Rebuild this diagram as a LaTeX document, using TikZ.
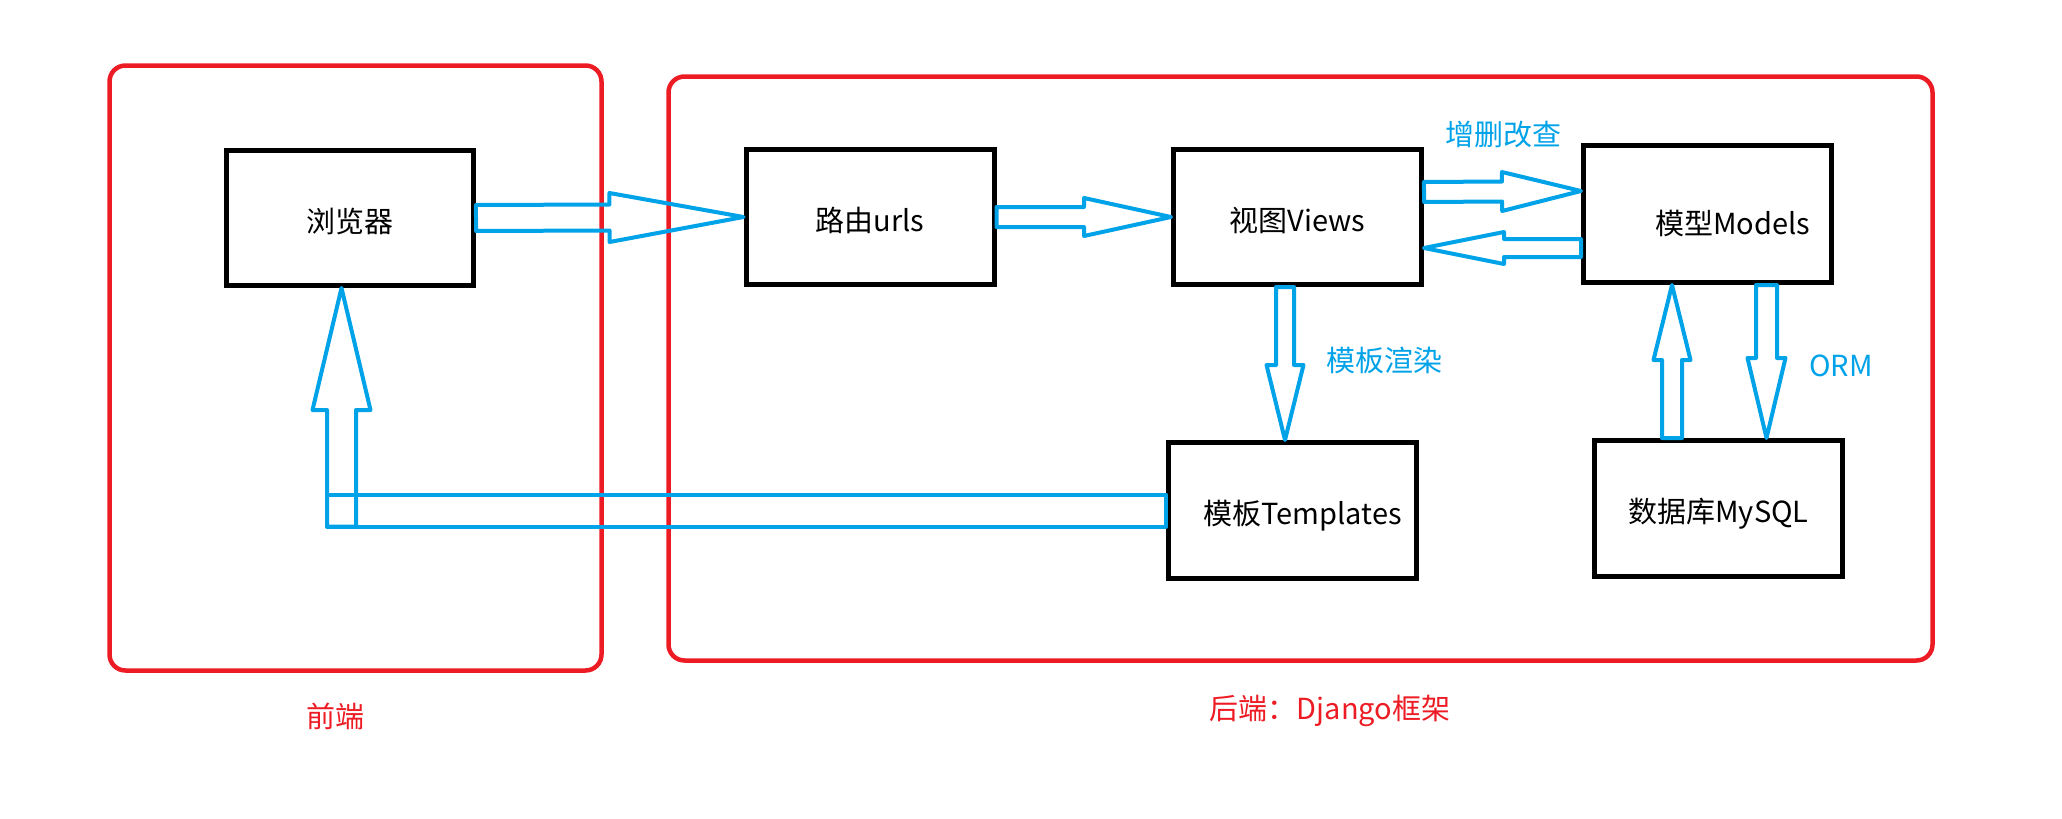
\documentclass[tikz,border=0pt]{standalone}
\usepackage{fontspec}
\setmainfont{Noto Sans CJK SC}
\usepackage{tikz}
\usetikzlibrary{calc}
\definecolor{paintred}{HTML}{ED1C24}
\definecolor{paintblue}{HTML}{00A2E8}
\newcommand{\diagfont}{\fontsize{29pt}{35pt}\selectfont}
\tikzset{
    part-box/.style = {draw=paintred, line width=4.5pt, rectangle, rounded corners=16pt},
    step-box/.style = {draw=black, line width=5pt, rectangle, minimum width=248pt, minimum height=136pt, inner sep=0pt, text height=30pt, text depth=2pt, font=\diagfont},
    flow/.style = {draw=paintblue, line width=4pt, line join=round},
    flow-label/.style = {text=paintblue, font=\diagfont},
    part-label/.style = {text=paintred, font=\diagfont},
}
\newcommand{\fatarrow}[5]{%
    \path (#1) coordinate (fa-s) (#2) coordinate (fa-e) ($(fa-e)!#5!(fa-s)$) coordinate (fa-h);
    \draw[flow] ($(fa-s)!#3!90:(fa-e)$) -- ($(fa-h)!#3!90:(fa-e)$) -- ($(fa-h)!#4!90:(fa-e)$) -- (fa-e)
        -- ($(fa-h)!#4!-90:(fa-e)$) -- ($(fa-h)!#3!-90:(fa-e)$) -- ($(fa-s)!#3!-90:(fa-e)$) -- cycle;
}

\begin{document}
\begin{tikzpicture}[x=1pt, y=-1pt]
\useasboundingbox (0,0) rectangle (2062,819);
\node[part-box, minimum width=492pt, minimum height=605pt] (front) at (355.5,368) {};
\node[part-box, minimum width=1264pt, minimum height=584pt] (back) at (1300.5,368.5) {};
\node[part-label] (front-label) at (335,716) {前端};
\node[part-label] (back-label) at (1330,711) {后端：Django框架};

\node[step-box, minimum width=247pt, minimum height=135pt] (browser) at (350,218) {浏览器};
\node[step-box, minimum height=135pt] (urls) at (870,217) {路由urls};
\node[step-box, minimum height=135pt] (views) at (1297.5,217) {视图Views};
\node[step-box, minimum height=137pt] (models) at (1707.5,214) {\hspace*{50pt}\raisebox{-6pt}{模型Models}};
\node[step-box] (templates) at (1292.5,510.5) {\hspace*{20pt}模板Templates};
\node[step-box] (mysql) at (1718.5,508.5) {数据库MySQL};

\fatarrow{browser.east}{urls.west}{13pt}{24.5pt}{134pt}
\fatarrow{urls.east}{views.west}{10pt}{19pt}{87pt}
\fatarrow{$(views.east)+(0,-25)$}{$(models.west)+(0,-23)$}{10pt}{19.5pt}{79pt}
\fatarrow{$(models.west)+(0,34)$}{$(views.east)+(0,31)$}{9pt}{16pt}{80pt}
\coordinate (vt) at ($(views.south)+(-12.5,0)$);
\fatarrow{vt}{vt |- templates.north}{9pt}{18.5pt}{75pt}
\coordinate (mu) at ($(mysql.north)+(-46.5,0)$);
\fatarrow{mu}{mu |- models.south}{10pt}{18.5pt}{75pt}
\coordinate (md) at ($(models.south)+(59,0)$);
\fatarrow{md}{md |- mysql.north}{10.5pt}{19pt}{80pt}
\coordinate (bk) at ($(browser.south)+(-8.5,0)$);
\draw[flow] ($(bk |- templates.west)+(-14.5,-16)$) rectangle ($(templates.west)+(0,16)$);
\fatarrow{$(bk |- templates.west)+(0,16)$}{bk}{14.5pt}{29pt}{122pt}

\node[flow-label] (crud) at (1503,135) {增删改查};
\node[flow-label] (render) at (1384,360) {模板渲染};
\node[flow-label] (orm) at (1841,366) {ORM};
\end{tikzpicture}
\end{document}
